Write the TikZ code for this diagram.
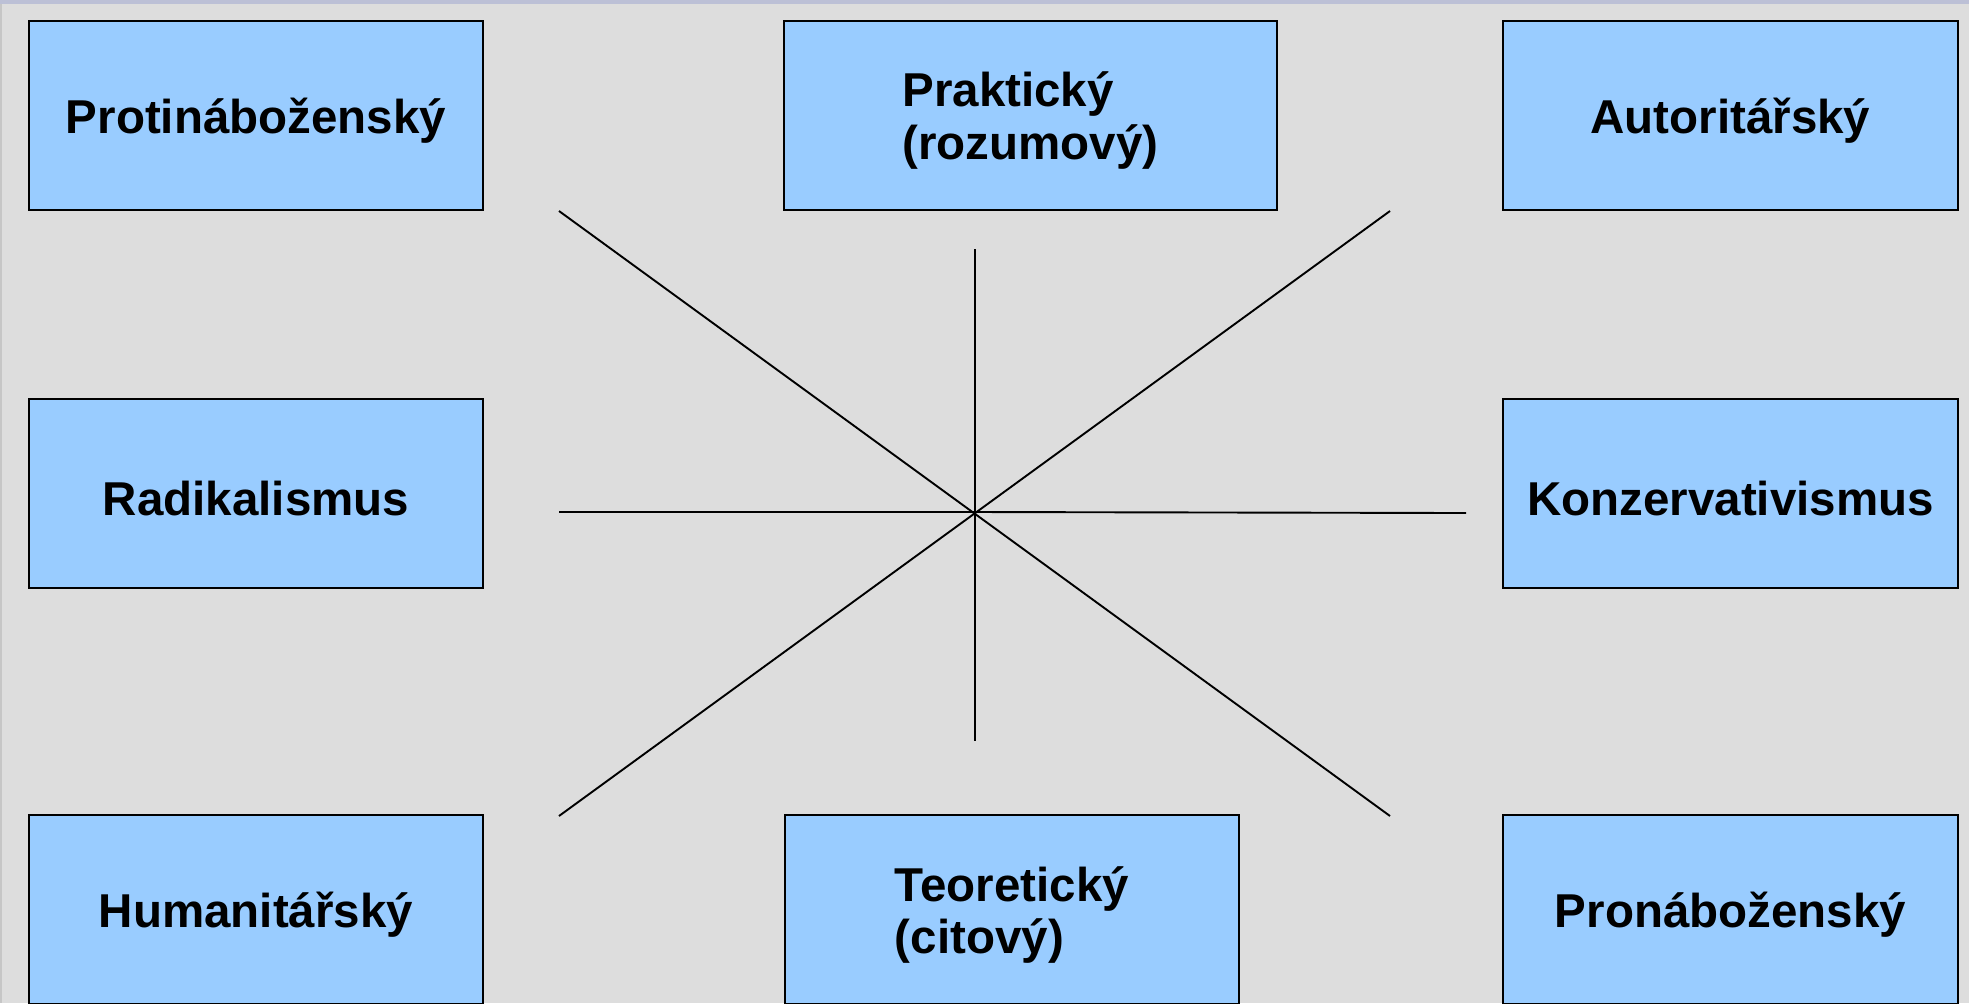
\documentclass[tikz,border=0pt]{standalone}
\usepackage{fontspec}
\setmainfont{Liberation Sans}
\definecolor{bg}{HTML}{DDDDDD}
\definecolor{topstrip}{HTML}{BCC0D6}
\definecolor{leftstrip}{HTML}{C6C6C6}
\definecolor{boxfill}{HTML}{99CCFF}
\tikzset{
  cat/.style={draw=black, line width=1pt, fill=boxfill, rectangle, inner sep=0pt,
    minimum height=94.5pt},
  txt/.style={font=\fontsize{23.75}{26}\selectfont\bfseries, align=left, inner sep=0pt, yshift=-2.5pt},
  axis/.style={line width=0.95pt, black}
}
\begin{document}
\begin{tikzpicture}[x=0.5pt,y=-0.5pt]
\useasboundingbox (0,0) rectangle (1969,1003);
\fill[bg] (0,0) rectangle (1969,1003);
\fill[topstrip] (0,0) rectangle (1969,4);
\fill[leftstrip] (0,4) rectangle (2,1003);
% boxes
\node[cat, minimum width=227pt, label={[txt]center:Protináboženský}] (ptb) at (256,115.5) {};
\node[cat, minimum width=246.5pt, label={[txt]center:Praktický\\(rozumový)}] (prk) at (1030.5,115.5) {};
\node[cat, minimum width=227.5pt, label={[txt]center:Autoritářský}] (aut) at (1730.5,115.5) {};
\node[cat, minimum width=227pt, label={[txt]center:Radikalismus}] (rad) at (256,493.5) {};
\node[cat, minimum width=227.5pt, label={[txt]center:Konzervativismus}] (kon) at (1730.5,493.5) {};
\node[cat, minimum width=227pt, label={[txt]center:Humanitářský}] (hum) at (256,909.5) {};
\node[cat, minimum width=227pt, label={[txt]center:Teoretický\\(citový)}] (teo) at (1012,909.5) {};
\node[cat, minimum width=227.5pt, label={[txt]center:Pronáboženský}] (pro) at (1730.5,909.5) {};
% axes
\coordinate (c) at (975,512);
\coordinate (dTL) at (559,211);
\coordinate (dTR) at (1390,211);
\coordinate (dBL) at (559,816);
\coordinate (dBR) at (1390,816);
\coordinate (hL) at (559,512);
\coordinate (hR) at (1466,513);
\coordinate (vT) at (975,249);
\coordinate (vB) at (975,741);
\draw[axis] (dTL) -- (dBR);
\draw[axis] (dTR) -- (dBL);
\draw[axis] (hL) -- (c) -- (hR);
\draw[axis] (vT) -- (vB);
\end{tikzpicture}
\end{document}
